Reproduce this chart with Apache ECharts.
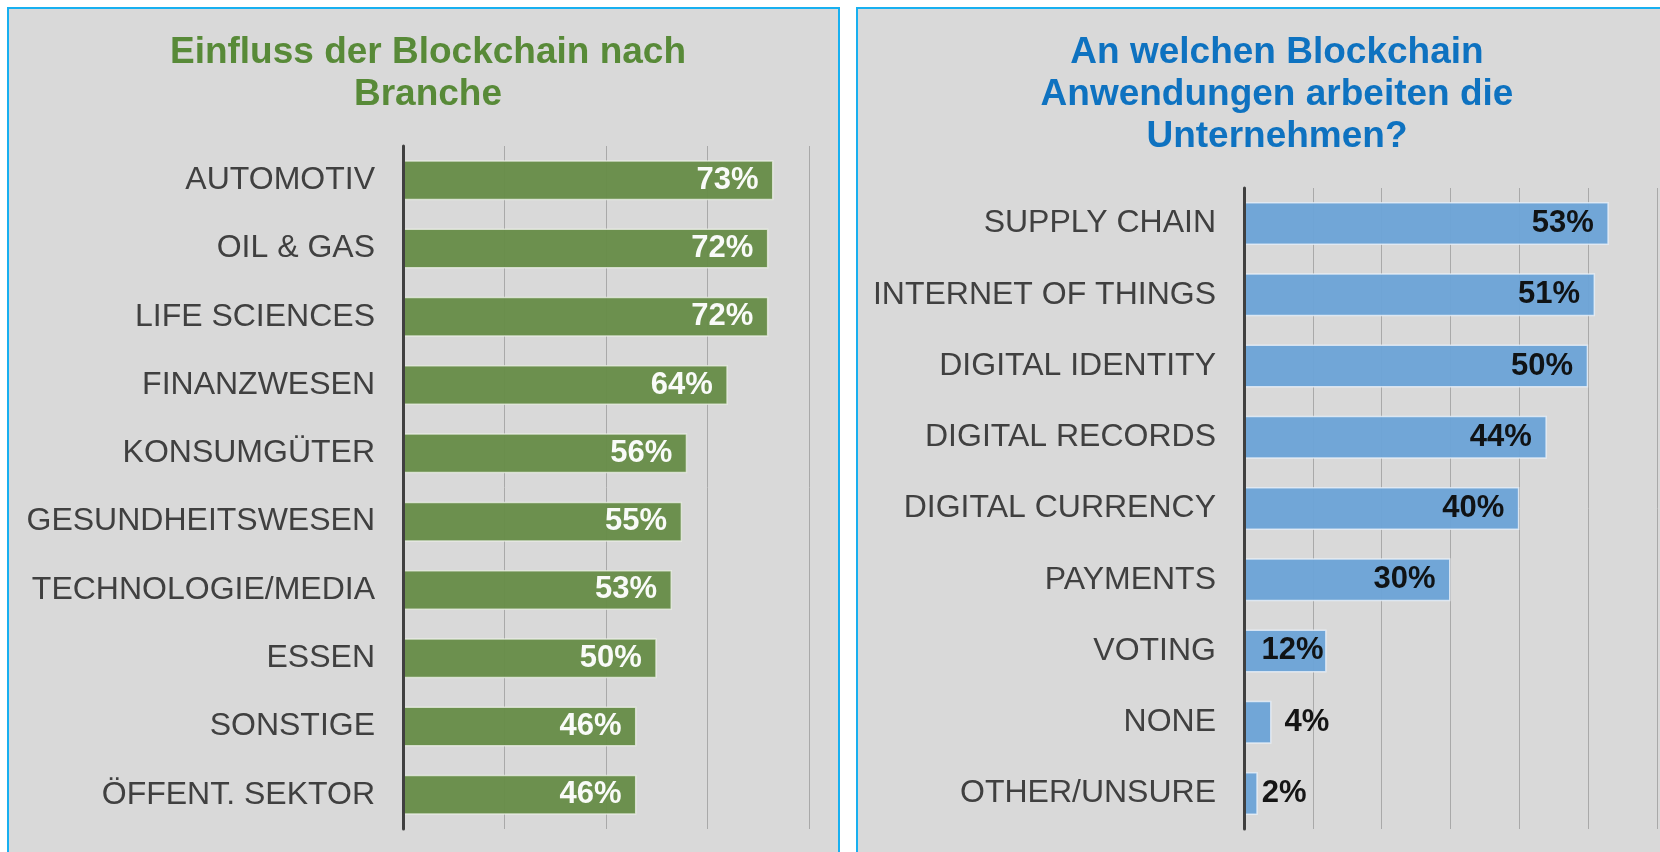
<!DOCTYPE html>
<html>
<head>
<meta charset="utf-8">
<title>Blockchain</title>
<script src="https://cdn.jsdelivr.net/npm/echarts@6/dist/echarts.min.js"></script>
<style>
    html, body { margin: 0; padding: 0; background: #fff; overflow: hidden; }
    #chart { width: 1660px; height: 852px; }
</style>
</head>
<body>
<div id="chart"></div>
<script>
    // linke Grafik - Branchen
    const branchen = ['AUTOMOTIV', 'OIL & GAS', 'LIFE SCIENCES', 'FINANZWESEN', 'KONSUMGÜTER',
        'GESUNDHEITSWESEN', 'TECHNOLOGIE/MEDIA', 'ESSEN', 'SONSTIGE', 'ÖFFENT. SEKTOR'];
    const branchenWerte = [73, 72, 72, 64, 56, 55, 53, 50, 46, 46];

    // rechte Grafik - Anwendungen
    const anwendungen = ['SUPPLY CHAIN', 'INTERNET OF THINGS', 'DIGITAL IDENTITY', 'DIGITAL RECORDS',
        'DIGITAL CURRENCY', 'PAYMENTS', 'VOTING', 'NONE', 'OTHER/UNSURE'];
    const anwendungenWerte = [53, 51, 50, 44, 40, 30, 12, 4, 2];

    const titelLinks = 'Einfluss der Blockchain nach\nBranche';
    const titelRechts = 'An welchen Blockchain\nAnwendungen arbeiten die\nUnternehmen?';

    const font = '"Liberation Sans", Arial, sans-serif';
    const chart = echarts.init(document.getElementById('chart'));

    // kleine Balken: Label sitzt anders (wie in Excel)
    const rechtsData = anwendungenWerte.map((v) => {
        if (v < 5) {
            return { value: v, label: { position: 'right', distance: v === 4 ? 13 : 4 } };
        }
        if (v < 20) {
            return { value: v, label: { distance: 3 } };
        }
        return v;
    });

    const option = {
        backgroundColor: '#ffffff',
        animation: false,
        graphic: [
            {
                type: 'rect', z: -10, silent: true,
                shape: { x: 8, y: 8, width: 831, height: 900 },
                style: { fill: '#D9D9D9', stroke: '#18B0F0', lineWidth: 2 }
            },
            {
                type: 'rect', z: -10, silent: true,
                shape: { x: 857, y: 8, width: 831, height: 900 },
                style: { fill: '#D9D9D9', stroke: '#18B0F0', lineWidth: 2 }
            }
        ],
        title: [
            {
                text: titelLinks,
                left: 423, top: 27, textAlign: 'center',
                textStyle: { fontFamily: font, fontSize: 37, fontWeight: 'bold', color: '#588A38', lineHeight: 42 }
            },
            {
                text: titelRechts,
                left: 1272, top: 27, textAlign: 'center',
                textStyle: { fontFamily: font, fontSize: 37, fontWeight: 'bold', color: '#0E72C0', lineHeight: 42 }
            }
        ],
        grid: [
            { left: 403, right: 851, top: 146, bottom: 23, containLabel: false },
            { left: 1244, right: 3, top: 188, bottom: 23, containLabel: false }
        ],
        xAxis: [
            {
                gridIndex: 0, type: 'value', min: 0, max: 80, interval: 20,
                axisLabel: { show: false }, axisLine: { show: false }, axisTick: { show: false },
                splitLine: { lineStyle: { color: '#A9A9A9', width: 1 } }
            },
            {
                gridIndex: 1, type: 'value', min: 0, max: 60, interval: 10,
                axisLabel: { show: false }, axisLine: { show: false }, axisTick: { show: false },
                splitLine: { lineStyle: { color: '#A9A9A9', width: 1 } }
            }
        ],
        yAxis: [
            {
                gridIndex: 0, type: 'category', data: branchen, inverse: true, z: 5,
                axisTick: { show: false },
                axisLine: { lineStyle: { color: '#404040', width: 3 } },
                axisLabel: { fontFamily: font, fontSize: 32, color: '#404040', margin: 28 }
            },
            {
                gridIndex: 1, type: 'category', data: anwendungen, inverse: true, z: 5,
                axisTick: { show: false },
                axisLine: { lineStyle: { color: '#404040', width: 3 } },
                axisLabel: { fontFamily: font, fontSize: 32, color: '#404040', margin: 28 }
            }
        ],
        series: [
            {
                type: 'bar', xAxisIndex: 0, yAxisIndex: 0,
                data: branchenWerte,
                barWidth: 40,
                itemStyle: { color: '#678D48', opacity: 0.96, borderColor: 'rgba(235,240,230,0.8)', borderWidth: 1.5 },
                label: {
                    show: true, position: 'insideRight', distance: 15,
                    formatter: '{c}%',
                    fontFamily: font, fontSize: 31, fontWeight: 'bold', color: '#ffffff'
                }
            },
            {
                type: 'bar', xAxisIndex: 1, yAxisIndex: 1,
                data: rechtsData,
                barWidth: 43,
                itemStyle: { color: '#6CA3D6', opacity: 0.96, borderColor: 'rgba(235,242,250,0.8)', borderWidth: 1.5 },
                label: {
                    show: true, position: 'insideRight', distance: 15,
                    formatter: '{c}%',
                    fontFamily: font, fontSize: 31, fontWeight: 'bold', color: '#0D0D0D'
                }
            }
        ]
    };

    chart.setOption(option);
</script>
</body>
</html>
